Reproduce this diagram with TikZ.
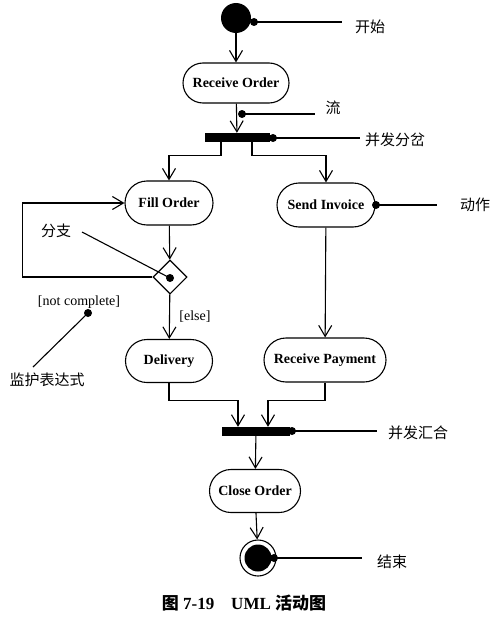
\documentclass[tikz,border=0pt]{standalone}
\usepackage{fontspec}
\setmainfont{Liberation Serif}
\newfontfamily\cjk{Noto Sans CJK SC}
\usetikzlibrary{arrows.meta,shapes.misc,shapes.geometric,positioning}

\tikzset{
  action/.style={draw, line width=1.1pt, rounded rectangle, font=\bfseries\fontsize{14}{16}\selectfont, inner sep=2pt},
  bar/.style={fill=black, draw, minimum height=8pt, inner sep=0pt},
  flow/.style={line width=1.1pt, -{Straight Barb[length=11pt,width=13pt]}},
  note/.style={font=\cjk\fontsize{15}{17}\selectfont, inner sep=1pt},
  pin/.style={line width=1.1pt},
  pindot/.style={fill=black}
}

\begin{document}
\begin{tikzpicture}[x=1pt,y=-1pt]
  \useasboundingbox (0,0) rectangle (501,618);

  % start and end
  \node[circle, fill=black, minimum size=30pt, inner sep=0pt] (start) at (236,18) {};
  \node[circle, draw, line width=1.1pt, minimum size=36pt, inner sep=0pt] (end) at (258,558) {};
  \node[circle, fill=black, minimum size=27pt, inner sep=0pt] (endin) at (258,558) {};

  % actions
  \node[action, minimum width=110pt, minimum height=40pt] (recv) at (236,83) {Receive Order};
  \node[action, minimum width=92pt, minimum height=44pt] (fill) at (169,203) {Fill Order};
  \node[action, minimum width=102pt, minimum height=44pt] (send) at (326,205) {Send Invoice};
  \node[action, minimum width=91pt, minimum height=43pt] (deliv) at (169,361) {Delivery};
  \node[action, minimum width=126pt, minimum height=44pt] (pay) at (325,360) {Receive Payment};
  \node[action, minimum width=95pt, minimum height=43pt] (close) at (255,491) {Close Order};

  % fork, join, branch
  \node[bar, minimum width=64pt] (fork) at (237,137) {};
  \node[bar, minimum width=67pt] (join) at (256,431) {};
  \node[diamond, draw, line width=1.1pt, minimum size=34pt, inner sep=0pt] (dec) at (170,277) {};

  % flows
  \draw[flow] (start) -- (recv);
  \draw[flow] (recv) -- (fork);
  \draw[flow] ([xshift=-16pt]fork.south) -- ++(0,14) -| (fill.north);
  \draw[flow] ([xshift=15pt]fork.south) -- ++(0,14) -| (send.north);
  \draw[flow] (fill) -- (dec);
  \draw[flow] (dec.west) -- ++(-130,0) |- (fill.west);
  \draw[flow] (dec) -- node[right=6pt, font=\fontsize{14}{16}\selectfont] (else) {[else]} (deliv);
  \draw[flow] (send) -- (pay);
  \draw[flow] (deliv.south) -- ++(0,17) -| ([xshift=-18pt]join.north);
  \draw[flow] (pay.south) -- ++(0,18) -| ([xshift=12pt]join.north);
  \draw[flow] (join) -- (close);
  \draw[flow] (close) -- (end);

  % notes
  \node[note] (lstart) at (370,27) {开始};
  \node[note] (lflow) at (333,108) {流};
  \node[note] (lfork) at (395,140) {并发分岔};
  \node[note] (laction) at (475,205) {动作};
  \node[note] (lbranch) at (56,231) {分支};
  \node[font=\fontsize{14}{16}\selectfont, inner sep=1pt] (guard) at (79,302) {[not complete]};
  \node[note] (lguard) at (47,380) {监护表达式};
  \node[note] (ljoin) at (418,433) {并发汇合};
  \node[note] (lend) at (392,562) {结束};

  \coordinate (pstart) at (254,22);
  \coordinate (pflow) at (242,114);
  \coordinate (pfork) at (273,138);
  \coordinate (paction) at (376,205);
  \coordinate (pbranch) at (170,278);
  \coordinate (pguard) at (88,313);
  \coordinate (pjoin) at (292,431);
  \coordinate (pend) at (274,558);

  \draw[pin] (pstart) -- (342,22);
  \draw[pin] (pflow) -- (315,114);
  \draw[pin] (pfork) -- (360,138);
  \draw[pin] (paction) -- (437,205);
  \draw[pin] (pbranch) -- (82,232);
  \draw[pin] (pguard) -- (33,367);
  \draw[pin] (pjoin) -- (377,431);
  \draw[pin] (pend) -- (362,558);
  \foreach \p in {pstart,pflow,pfork,paction,pbranch,pguard,pjoin,pend}
    \fill[pindot] (\p) circle (4pt);

  % caption
  \node[font=\bfseries\fontsize{17}{19}\selectfont] (caption) at (244,603) {{\cjk 图} 7-19\quad UML {\cjk 活动图}};
\end{tikzpicture}
\end{document}
